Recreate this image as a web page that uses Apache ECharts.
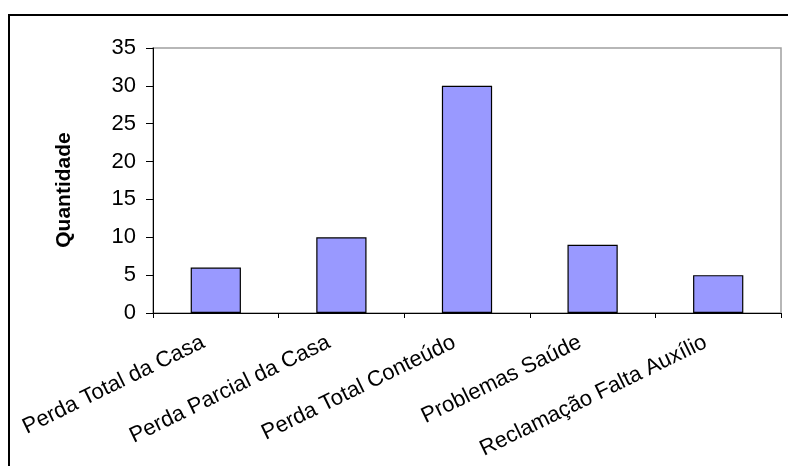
<!DOCTYPE html>
<html>
<head>
<meta charset="utf-8">
<script src="https://cdn.jsdelivr.net/npm/echarts@6/dist/echarts.min.js"></script>
<style>
  html, body { margin: 0; padding: 0; background: #fff; }
  #chart { width: 788px; height: 466px; }
</style>
</head>
<body>
<div id="chart"></div>
<script>
// Categories and counts per category
const categories = [
  'Perda Total da Casa',
  'Perda Parcial da Casa',
  'Perda Total Conteúdo',
  'Problemas Saúde',
  'Reclamação Falta Auxílio'
];
const quantities = [6, 10, 30, 9, 5];

// Value axis range
const yMin = 0;
const yMax = 35;
const yStep = 5;

const font = '"Liberation Sans", Arial, sans-serif';

const chart = echarts.init(document.getElementById('chart'), null, { renderer: 'canvas' });

chart.setOption({
  animation: false,
  backgroundColor: '#ffffff',
  grid: {
    left: 153,
    top: 48,
    right: 7,
    bottom: 153,
    show: true,
    borderColor: '#a0a0a0',
    borderWidth: 1.5,
    backgroundColor: 'transparent'
  },
  graphic: [{
    type: 'rect',
    shape: { x: 9, y: 15, width: 800, height: 500 },
    style: { fill: 'none', stroke: '#000', lineWidth: 2 },
    silent: true,
    z: 10
  }],
  xAxis: {
    type: 'category',
    data: categories,
    boundaryGap: true,
    axisLine: { lineStyle: { color: '#000', width: 1 } },
    axisTick: { show: true, length: 5, lineStyle: { color: '#000' }, alignWithLabel: false },
    axisLabel: {
      interval: 0,
      rotate: 26,
      margin: 22,
      padding: [0, 14, 0, 0],
      color: '#000',
      fontFamily: font,
      fontSize: 22
    },
    splitLine: { show: false }
  },
  yAxis: {
    type: 'value',
    min: yMin,
    max: yMax,
    interval: yStep,
    name: 'Quantidade',
    nameLocation: 'middle',
    nameRotate: 90,
    nameGap: 78,
    nameTextStyle: {
      color: '#000',
      fontFamily: font,
      fontSize: 21,
      fontWeight: 'bold',
      padding: [0, 19, 0, 0]
    },
    axisLine: { show: true, lineStyle: { color: '#000', width: 1 } },
    axisTick: { show: true, length: 7, lineStyle: { color: '#000' } },
    axisLabel: {
      margin: 17,
      color: '#000',
      fontFamily: font,
      fontSize: 22
    },
    splitLine: { show: false }
  },
  series: [{
    type: 'bar',
    data: quantities,
    barWidth: '40%',
    itemStyle: {
      color: '#9999ff',
      borderColor: '#000',
      borderWidth: 1.2
    }
  }]
});
</script>
</body>
</html>
